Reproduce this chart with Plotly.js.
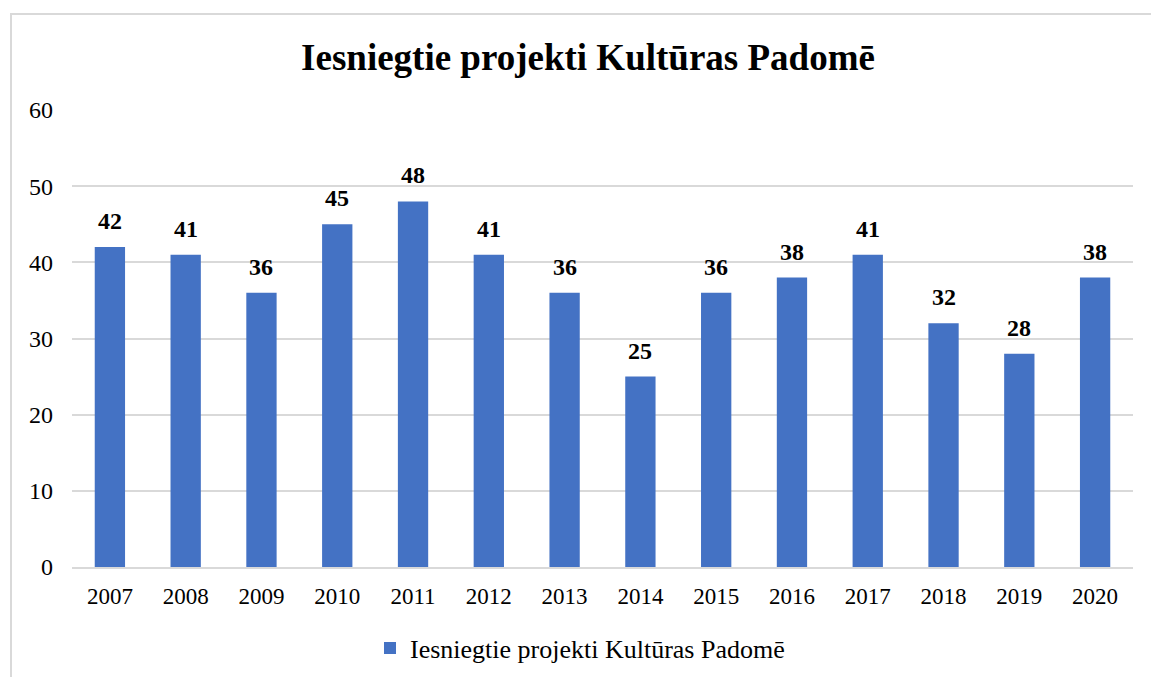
<!DOCTYPE html>
<html>
<head>
<meta charset="utf-8">
<script src="https://cdn.plot.ly/plotly-3.0.1.min.js"></script>
<style>
html,body{margin:0;padding:0;background:#fff;}
#wrap{position:relative;width:1151px;height:677px;overflow:hidden;}
#chart{position:absolute;left:0;top:0;width:1151px;height:677px;}
#frame{position:absolute;left:10px;top:13px;width:1160px;height:700px;border-left:2px solid #d9d9d9;border-top:2px solid #d9d9d9;pointer-events:none;}
</style>
</head>
<body>
<div id="wrap"><div id="chart"></div><div id="frame"></div></div>
<script>
const years = ["2007","2008","2009","2010","2011","2012","2013","2014","2015","2016","2017","2018","2019","2020"];
const projects = [42,41,36,45,48,41,36,25,36,38,41,32,28,38];
const seriesName = "Iesniegtie projekti Kultūras Padomē";
const chartTitle = "Iesniegtie projekti Kultūras Padomē";
const yTicks = [0,10,20,30,40,50,60];

const serif = "'Liberation Serif', 'Times New Roman', serif";

const trace = {
  type: 'bar',
  x: years,
  y: projects,
  name: seriesName,
  marker: {color: '#4472c4'},
  showlegend: true,
  hoverinfo: 'skip'
};

const annotations = years.map((yr, i) => ({
  x: i, y: projects[i], xref: 'x', yref: 'y',
  text: '<b>' + projects[i] + '</b>',
  showarrow: false, yanchor: 'bottom', yshift: 11,
  font: {family: serif, size: 24, color: '#000'}
}));

const layout = {
  width: 1151, height: 677,
  paper_bgcolor: '#fff', plot_bgcolor: '#fff',
  margin: {l: 72, r: 18, t: 110, b: 110},
  title: {text: '<b>' + chartTitle + '</b>', x: 588/1151, xanchor: 'center', xref: 'container', y: 1 - 57/677, yref: 'container', yanchor: 'middle',
          font: {family: serif, size: 37, color: '#000'}},
  bargap: 0.6,
  xaxis: {type: 'category', range: [-0.5, years.length - 0.5], tickfont: {family: serif, size: 23, color: '#000'}, showline: true, linecolor: '#d9d9d9', linewidth: 2,
          ticks: '', ticklabelstandoff: 7, showgrid: false, fixedrange: true},
  yaxis: {range: [0, 60], tickvals: yTicks, tickfont: {family: serif, size: 24, color: '#000'}, showgrid: true, gridcolor: '#d9d9d9', gridwidth: 2,
          zeroline: false, ticks: '', ticklabelstandoff: 18, showline: false, fixedrange: true},
  legend: {orientation: 'h', x: 580/1151, xref: 'container', xanchor: 'center', y: (677-648)/677, yref: 'container', yanchor: 'middle',
           font: {family: serif, size: 26, color: '#000'}, itemwidth: 14, itemsizing: 'constant'},
  annotations: annotations
};

Plotly.newPlot('chart', [trace], layout, {displayModeBar: false, staticPlot: true});
</script>
</body>
</html>
